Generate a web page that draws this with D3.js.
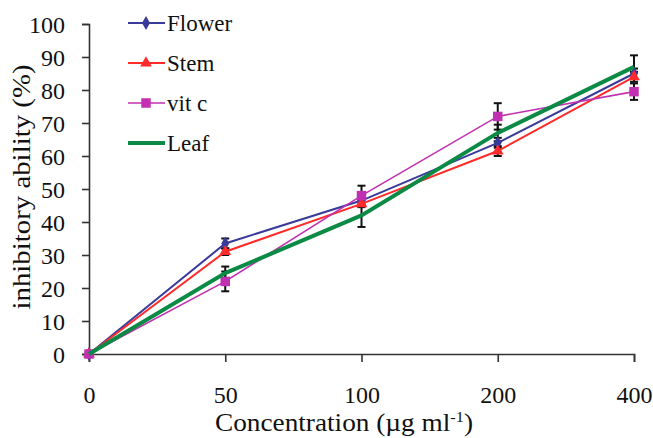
<!DOCTYPE html>
<html>
<head>
<meta charset="utf-8">
<script src="https://cdn.jsdelivr.net/npm/d3@7"></script>
<style>
  body { margin: 0; background: #fff; }
  text { font-family: "Liberation Serif", "Times New Roman", serif; fill: #111; }
</style>
</head>
<body>
<div id="chart"></div>
<script>
var concentrations = ["0", "50", "100", "200", "400"];
var yTicks = [0, 10, 20, 30, 40, 50, 60, 70, 80, 90, 100];

var flower = [0, 33.5, 46.5, 64, 85];
var flowerErr = [0, 1.5, 1.5, 1.5, 1.5];
var stem = [0, 31, 45.5, 61.5, 84];
var stemErr = [0, 1, 1, 1.5, 1.5];
var vitc = [0, 22, 48, 72, 79.5];
var vitcErr = [0, 3, 3, 4, 2.5];
var leaf = [0, 24.5, 42, 67, 87];
var leafErr = [0, 2, 3.5, 2.5, 3.5];

var series = [
  {name: "Flower", values: flower, err: flowerErr, color: "#3a3a9a", width: 2, marker: "diamond"},
  {name: "Stem", values: stem, err: stemErr, color: "#ff2a2a", width: 2, marker: "triangle"},
  {name: "vit c", values: vitc, err: vitcErr, color: "#c030b0", width: 1.6, marker: "square"},
  {name: "Leaf", values: leaf, err: leafErr, color: "#0b8a45", width: 4, marker: "none"}
];

var width = 653, height = 438;
var margin = {top: 24, right: 19, bottom: 84, left: 89};

var svg = d3.select("#chart").append("svg")
  .attr("width", width)
  .attr("height", height);

var g = svg.append("g")
  .attr("transform", `translate(${margin.left}, ${margin.top})`);

var chartWidth = 634 - margin.left;
var chartHeight = 354 - margin.top;

var xScale = d3.scalePoint().domain(concentrations).range([0, chartWidth]);
var yScale = d3.scaleLinear().domain([0, 100]).range([chartHeight, 0]);

// axes
var yAxis = d3.axisLeft(yScale).tickValues(yTicks).tickSize(7).tickPadding(17);
var gy = g.append("g").attr("class", "y axis").call(yAxis);
gy.selectAll("text").style("font-size", "24px").attr("dy", "0.35em");

var xAxis = d3.axisBottom(xScale).tickSize(8).tickPadding(24);
var gx = g.append("g").attr("class", "x axis")
  .attr("transform", `translate(0,${chartHeight})`)
  .call(xAxis);
gx.selectAll("text").style("font-size", "24px");

g.selectAll(".axis path, .axis line").attr("stroke", "#333").attr("stroke-width", 1.6);

// axis titles
svg.append("text")
  .attr("transform", "translate(30, 187) rotate(-90)")
  .attr("text-anchor", "middle")
  .attr("textLength", 245)
  .attr("lengthAdjust", "spacingAndGlyphs")
  .style("font-size", "25px")
  .text("inhibitory ability (%)");

var xt = svg.append("text")
  .attr("x", 215)
  .attr("y", 431)
  .attr("textLength", 258)
  .attr("lengthAdjust", "spacingAndGlyphs")
  .style("font-size", "25px");
xt.append("tspan").text("Concentration (µg  ml");
xt.append("tspan").attr("dy", -9).style("font-size", "15px").text("-1");
xt.append("tspan").attr("dy", 9).text(")");

// error bars
series.forEach(function(s) {
  s.values.forEach(function(v, i) {
    var e = s.err[i];
    if (!e) return;
    var x = xScale(concentrations[i]);
    var eg = g.append("g").attr("stroke", "#111").attr("stroke-width", 2);
    eg.append("line").attr("x1", x).attr("x2", x).attr("y1", yScale(v - e)).attr("y2", yScale(v + e));
    eg.append("line").attr("x1", x - 4).attr("x2", x + 4).attr("y1", yScale(v - e)).attr("y2", yScale(v - e));
    eg.append("line").attr("x1", x - 4).attr("x2", x + 4).attr("y1", yScale(v + e)).attr("y2", yScale(v + e));
  });
});

var line = d3.line()
  .x(function(d, i) { return xScale(concentrations[i]); })
  .y(function(d) { return yScale(d); });

function markerPath(type) {
  if (type == "diamond") return d3.symbol().type(d3.symbolDiamond).size(55)();
  if (type == "triangle") return d3.symbol().type(d3.symbolTriangle).size(60)();
  if (type == "square") return d3.symbol().type(d3.symbolSquare).size(90)();
  return null;
}

series.forEach(function(s) {
  g.append("path")
    .datum(s.values)
    .attr("fill", "none")
    .attr("stroke", s.color)
    .attr("stroke-width", s.width)
    .attr("d", line);
  if (s.marker != "none") {
    g.selectAll(null)
      .data(s.values)
      .enter()
      .append("path")
      .attr("transform", function(d, i) { return `translate(${xScale(concentrations[i])},${yScale(d)})`; })
      .attr("d", markerPath(s.marker))
      .attr("fill", s.color);
  }
});

// legend
var legend = svg.append("g");
series.forEach(function(s, i) {
  var y = 23 + i * 40;
  legend.append("line")
    .attr("x1", 128).attr("x2", 165)
    .attr("y1", y).attr("y2", y)
    .attr("stroke", s.color)
    .attr("stroke-width", s.width);
  if (s.marker != "none") {
    legend.append("path")
      .attr("transform", `translate(146,${y})`)
      .attr("d", markerPath(s.marker))
      .attr("fill", s.color);
  }
  legend.append("text")
    .attr("x", 167)
    .attr("y", y)
    .attr("dy", "0.35em")
    .style("font-size", "23px")
    .text(s.name);
});
</script>
</body>
</html>
